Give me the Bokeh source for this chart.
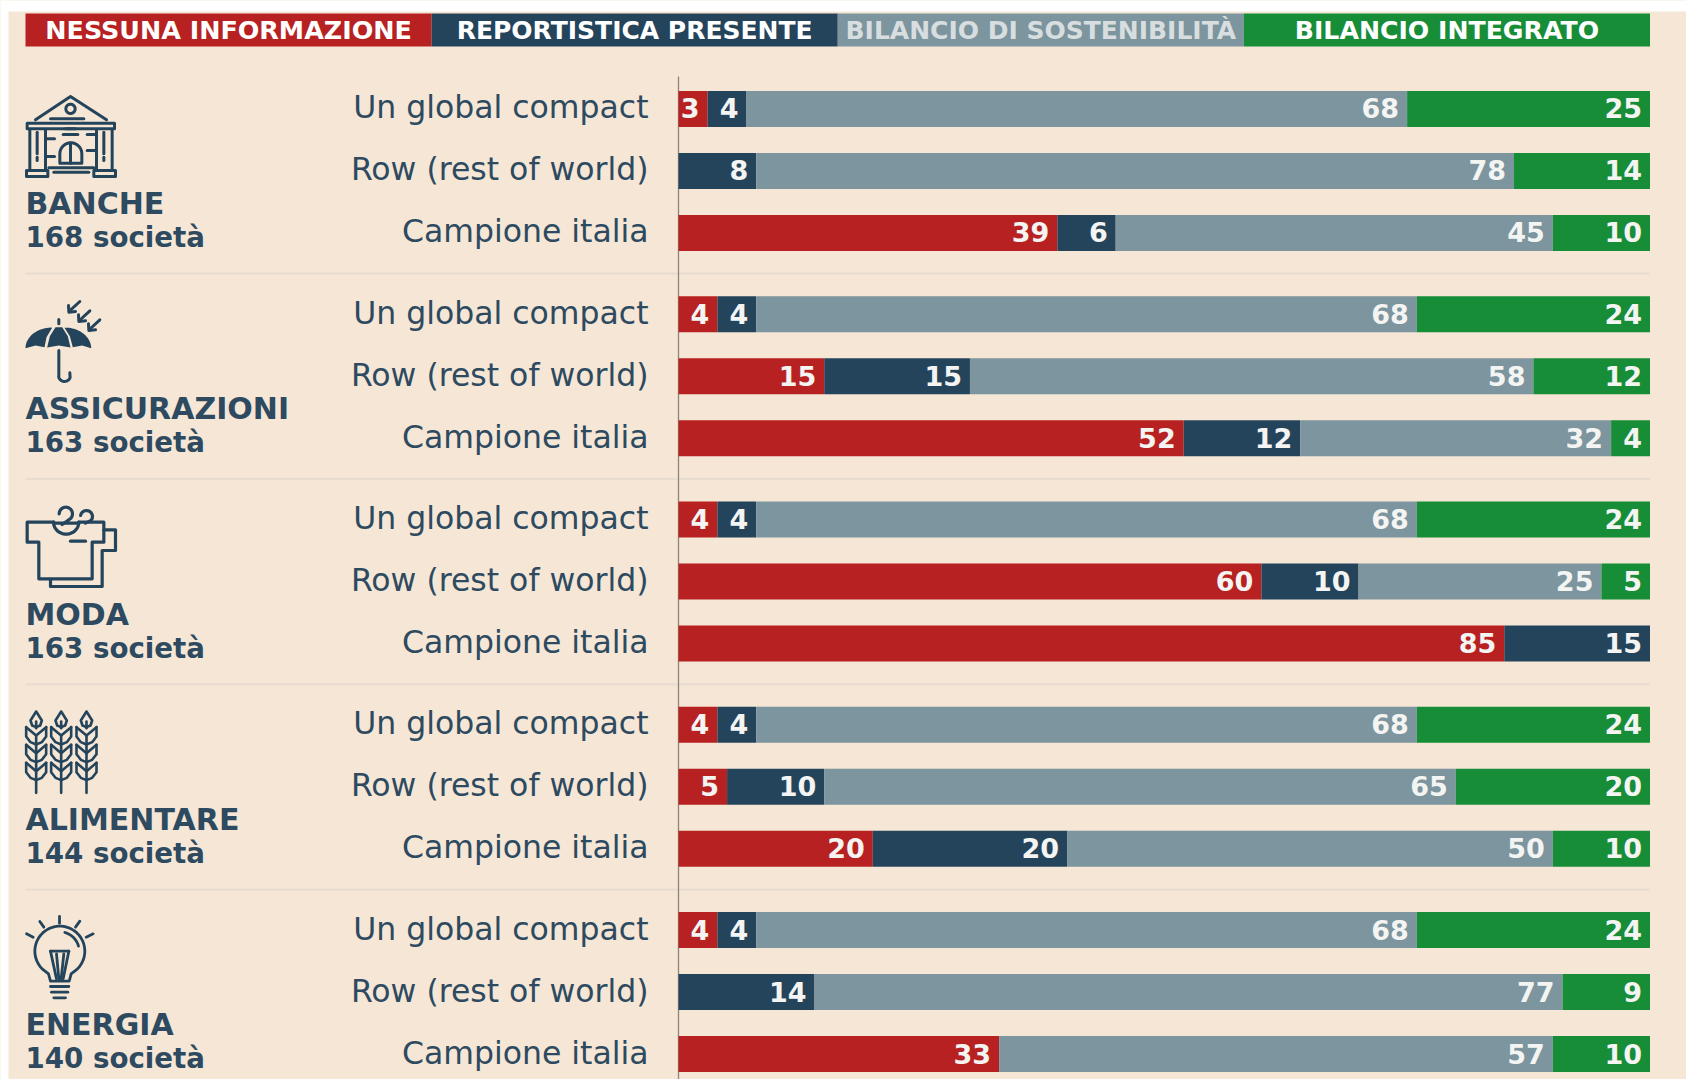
import numpy as np
from bokeh.plotting import figure
from bokeh.models import Range1d, ColumnDataSource
from bokeh.core.properties import value
from bokeh.embed import file_html
from bokeh.resources import INLINE

series_names = ["NESSUNA INFORMAZIONE", "REPORTISTICA PRESENTE", "BILANCIO DI SOSTENIBILITÀ", "BILANCIO INTEGRATO"]
row_labels = ["Un global compact", "Row (rest of world)", "Campione italia"]
sectors = ["BANCHE", "ASSICURAZIONI", "MODA", "ALIMENTARE", "ENERGIA"]
companies = ["168 società", "163 società", "163 società", "144 società", "140 società"]

nessuna = [3, 0, 39, 4, 15, 52, 4, 60, 85, 4, 5, 20, 4, 0, 33]
reportistica = [4, 8, 6, 4, 15, 12, 4, 10, 15, 4, 10, 20, 4, 14, 0]
sostenibilita = [68, 78, 45, 68, 58, 32, 68, 25, 0, 68, 65, 50, 68, 77, 57]
integrato = [25, 14, 10, 24, 12, 4, 24, 5, 0, 24, 20, 10, 24, 9, 10]

RED, NAVY, GRAY, GREEN = "#b82121", "#24445c", "#7c959e", "#178d38"
BG, INK, RULE = "#f5e6d6", "#2d4a60", "#e8dcd0"
FONT = value("DejaVu Sans")
W, H = 1686, 1079
PX = 9.715  # pixels per percentage point
X0 = 678

p = figure(width=W, height=H, output_backend="svg", toolbar_location=None,
           x_range=Range1d(-X0 / PX, (W - X0) / PX), y_range=Range1d(H, 0),
           min_border=0, outline_line_color=None,
           background_fill_color=BG, border_fill_color=BG)
p.axis.visible = False
p.grid.visible = False

def xv(px):  # canvas pixel -> x value
    return (px - X0) / PX

# white strips above and left of the sheet
p.quad(left=[xv(0), xv(0)], right=[xv(W), xv(8)], top=[0, 0], bottom=[11, H], fill_color="white", line_color=None)

# legend
colors = [RED, NAVY, GRAY, GREEN]
lw = (xv(1649.5) - xv(25)) / 4
lefts = [xv(25) + i * lw for i in range(4)]
p.quad(left=lefts, right=[l + lw for l in lefts], top=[13] * 4, bottom=[46] * 4,
       fill_color=colors, line_color=None)
p.text(x=[l + lw / 2 for l in lefts], y=[29.5] * 4, text=series_names,
       text_color=["white", "white", "#d8dedf", "white"], text_align="center", text_baseline="middle",
       text_font=FONT, text_font_style="bold", text_font_size=["25.4px", "25px", "25px", "25.2px"])

# rows
row_y = [108.4 + g * 205.3 + r * 62 for g in range(5) for r in range(3)]
sep_y = [273 + g * 205.4 for g in range(4)]
p.segment(x0=[xv(25)] * 4, x1=[100] * 4, y0=sep_y, y1=sep_y, line_color=RULE, line_width=2)
p.segment(x0=[0], x1=[0], y0=[76], y1=[H], line_color="#8f857c", line_width=1.3)

rows_text = [row_labels[i % 3] for i in range(15)]
p.text(x=[xv(648)] * 15, y=[y - 1.5 for y in row_y], text=rows_text, text_color=INK, text_align="right",
       text_baseline="middle", text_font=FONT, text_font_size="31.5px", text_font_style="normal")

left = np.zeros(15)
for vals, col in zip([nessuna, reportistica, sostenibilita, integrato], colors):
    v = np.array(vals, float)
    src = ColumnDataSource(dict(y=row_y, left=left, right=left + v))
    p.hbar(y="y", left="left", right="right", height=36, source=src, fill_color=col, line_color=None)
    idx = v > 0
    p.text(x=(left + v)[idx], y=np.array(row_y)[idx] - 0.5, text=[str(int(a)) for a in v[idx]],
           x_offset=-8, text_color="#f4f4f2", text_align="right", text_baseline="middle",
           text_font=FONT, text_font_style="bold", text_font_size="27px")
    left = left + v

# sector names
gy = [row_y[3 * g] for g in range(5)]
p.text(x=[xv(25)] * 5, y=[y + 94.5 for y in gy], text=sectors, text_color=INK, text_baseline="middle",
       text_font=FONT, text_font_style="bold", text_font_size="30px")
p.text(x=[xv(25)] * 5, y=[y + 128.5 for y in gy], text=companies, text_color=INK, text_baseline="middle",
       text_font=FONT, text_font_style="bold", text_font_size="27.7px")

# icons, drawn in local sketch coordinates
def arc(cx, cy, r, a0, a1, n=24, ry=None):
    t = np.radians(np.linspace(a0, a1, n))
    return list(zip(cx + r * np.cos(t), cy + (ry or r) * np.sin(t)))

def icon(ox, oy, lines, width=2.6, fills=()):
    for pts in fills:
        a = np.array(pts)
        p.patch(xv(ox + a[:, 0] / 3), oy + a[:, 1] / 3, fill_color=NAVY, line_color=None)
    for pts in lines:
        a = np.array(pts)
        p.line(xv(ox + a[:, 0] / 3), oy + a[:, 1] / 3, line_color=NAVY, line_width=width,
               line_join="round", line_cap="round")

def box(x0, y0, x1, y1):
    return [(x0, y0), (x1, y0), (x1, y1), (x0, y1), (x0, y0)]

bank = [[(45, 88), (150, 18), (258, 88)], arc(150, 55, 14, 0, 360), [(90, 85), (190, 85)],
        box(20, 98, 282, 115), box(18, 240, 82, 258), box(220, 240, 285, 258),
        [(28, 118), (28, 240)], [(75, 118), (75, 240)], [(50, 125), (50, 190)], [(50, 200), (50, 210)],
        [(228, 118), (228, 240)], [(275, 118), (275, 240)], [(250, 125), (250, 190)], [(250, 200), (250, 210)],
        [(85, 232), (220, 232)], [(100, 245), (205, 245)],
        [(80, 145), (102, 145)], [(80, 198), (102, 198)], [(200, 132), (225, 132)], [(200, 180), (225, 180)],
        [(135, 115), (165, 115)], [(128, 132), (172, 132)],
        [(118, 218)] + arc(151, 190, 33, 180, 360) + [(184, 218), (118, 218)], [(150, 158), (150, 218)]]
icon(20, 90, bank, width=3)

umb_fill = [[(15, 158)] + arc(95, 158, 80, 180, 270, ry=62)[:-1] + [(95, 97), (78, 125), (72, 155), (45, 150)],
            [(80, 156), (88, 122), (105, 95), (125, 95), (142, 122), (150, 156), (115, 150)],
            [(157, 155), (148, 122), (132, 97)] + arc(132, 158, 80, 280, 360, ry=62) + [(185, 150)]]
umb = [[(115, 72), (115, 85)], [(115, 165), (115, 240)] + arc(132, 240, 18, 180, 20, n=12)[1:] + [(148, 232)]]
for dx, dy in [(0, 0), (30, 28), (60, 55)]:
    umb.append([(178 + dx, 18 + dy), (150 + dx, 44 + dy)])
    umb.append([(144 + dx, 30 + dy), (145 + dx, 50 + dy), (165 + dx, 48 + dy)])
icon(20, 295, umb, width=3, fills=umb_fill)

shirt = [[(100, 65), (20, 65), (20, 125), (55, 125), (55, 235), (215, 235), (215, 125), (250, 125), (250, 65), (175, 65)],
         arc(137, 65, 38, 180, 0, n=16, ry=36), [(100, 68), (175, 68)],
         [(250, 88), (285, 88), (285, 150), (245, 150), (245, 258), (90, 258), (90, 238)],
         arc(136, 40, 20, 180, 420, n=16) + [(125, 72)], arc(198, 48, 18, 190, 400, n=12) + [(195, 68)],
         [(150, 122), (195, 122)]]
icon(20, 500, shirt, width=3.2)

wheat = []
for cx in (47, 122, 198):
    wheat.append([(cx, 18), (cx - 17, 45), (cx - 12, 60), (cx, 65), (cx + 12, 60), (cx + 17, 45), (cx, 18)])
    wheat.append([(cx, 48), (cx, 68)])
    for ty in (65, 118, 172):
        wheat.append([(cx - 30, ty), (cx, ty + 25), (cx + 30, ty)])
        wheat.append([(cx - 30, ty), (cx - 30, ty + 28), (cx - 17, ty + 45), (cx, ty + 52),
                      (cx + 17, ty + 45), (cx + 30, ty + 28), (cx + 30, ty)])
    wheat.append([(cx, 90), (cx, 262)])
icon(20, 705, wheat, width=2.6)

bulb = [[(90, 212), (84, 190)] + arc(118, 122, 75, 135, 405, n=36) + [(152, 190), (146, 212), (90, 212)],
        [(117, 18), (117, 38)], [(58, 33), (70, 50)], [(178, 32), (165, 50)], [(18, 70), (38, 80)], [(218, 70), (197, 80)],
        [(90, 122), (145, 122)], [(90, 122), (108, 205)], [(145, 122), (128, 205)], [(108, 130), (115, 205)], [(130, 130), (122, 205)],
        arc(118, 122, 58, 285, 345, n=10), [(90, 228), (145, 228)], [(93, 245), (142, 245)], [(100, 262), (135, 262)]]
icon(20, 910, bulb, width=2.8)

open("out.html", "w").write(file_html(p, INLINE))
